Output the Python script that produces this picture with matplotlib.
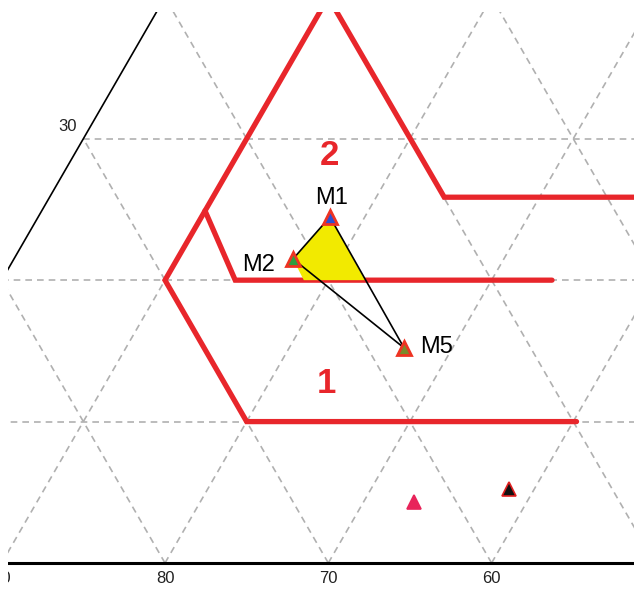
import numpy as np
import matplotlib
matplotlib.use("Agg")
import matplotlib.pyplot as plt
from matplotlib.patches import Polygon

plt.rcParams['font.family'] = ['Liberation Sans', 'DejaVu Sans']

SQ3 = np.sqrt(3.0)

# ternary frame, side 100, grid every 10
grid_steps = np.arange(10, 100, 10)
bottom_ticks = [90, 80, 70, 60]
left_ticks = [10, 20, 30, 40]

# field boundaries (cartesian ternary coords)
bound_a_x = [45.2, 25.0, 20.0, 30.0, 37.1, 52.0]
bound_a_y = [8.66, 8.66, 17.32, 34.64, 22.4, 22.4]
bound_b_x = [22.45, 24.3, 43.7]
bound_b_y = [21.57, 17.32, 17.32]

field_labels = ['1', '2']
field_label_x = [29.9, 30.1]
field_label_y = [11.0, 24.95]

# samples
samp_names = ['M1', 'M2', 'M5']
samp_x = [30.10, 27.84, 34.64]
samp_y = [21.19, 18.62, 13.17]
samp_fill = ['#2f4fd0', '#2e9e3e', '#7a8a2a']
name_x = [30.17, 25.76, 36.66]
name_y = [22.35, 18.25, 13.23]

other_x = [35.25, 41.07]
other_y = [3.74, 4.53]
other_fill = ['#e8245a', '#111111']
other_edge = ['#e8245a', '#e02020']

# overlap of the M1-M2-M5 triangle with field 2
yellow_x = [30.10, 27.84, 28.5, 32.25]
yellow_y = [21.19, 18.62, 17.32, 17.32]

fig = plt.figure(figsize=(6.34, 5.90), dpi=100)
ax = fig.add_axes([8 / 634, 0, 626 / 634, 578 / 590])
s = 16.33
ax.set_xlim(20 - 157 / s, 20 + 469 / s)
ax.set_ylim(-27 / s, 551 / s)
ax.set_axis_off()

gkw = dict(color='#b0b0b0', lw=1.2, ls=(0, (4, 3)), zorder=1)
for c in grid_steps:
    h = c * SQ3 / 2
    ax.plot([c / 2, 100 - c / 2], [h, h], **gkw)
    ax.plot([c, (100 + c) / 2], [0, (100 - c) * SQ3 / 2], **gkw)
    ax.plot([c, c / 2], [0, h], **gkw)

# triangle edges
ax.plot([0, 50], [0, 50 * SQ3], color='black', lw=1.2, zorder=2)
ax.plot([0, 100], [0, 0], color='black', lw=2.2, zorder=2)

for v in bottom_ticks:
    ax.text(100 - v, -0.95, str(v), ha='center', va='center',
            fontsize=12, color='#222222', clip_on=True)
for v in left_ticks:
    ax.annotate(str(v), (v / 2, v * SQ3 / 2), xytext=(-16, 12),
                textcoords='offset pixels', ha='center', va='center',
                fontsize=12, color='#222222', annotation_clip=True)

red = '#e8262b'
for bx, by in [(bound_a_x, bound_a_y), (bound_b_x, bound_b_y)]:
    ax.plot(bx, by, color=red, lw=3.8, solid_capstyle='round',
            solid_joinstyle='miter', zorder=3)

for t, lx, ly in zip(field_labels, field_label_x, field_label_y):
    ax.text(lx, ly, t, ha='center', va='center', fontsize=25,
            fontweight='bold', color=red, zorder=6)

ax.add_patch(Polygon(list(zip(yellow_x, yellow_y)), closed=True,
                     facecolor='#f2ea00', edgecolor='none', zorder=3.5))

# tie lines between samples
ax.plot([samp_x[0], samp_x[1]], [samp_y[0], samp_y[1]], color='black', lw=1.2, zorder=4)
ax.plot([samp_x[0], samp_x[2]], [samp_y[0], samp_y[2]], color='black', lw=1.2, zorder=4)
ax.plot([samp_x[1], samp_x[2]], [samp_y[1], samp_y[2]], color='black', lw=1.2, zorder=4)

for x, y, fc in zip(samp_x, samp_y, samp_fill):
    ax.plot(x, y, marker='^', ms=10, mfc=fc, mec='#ee3322', mew=2.0, zorder=5)
for t, x, y in zip(samp_names, name_x, name_y):
    ax.text(x, y, t, ha='center', va='center', fontsize=17, color='black', zorder=6)

for x, y, fc, ec in zip(other_x, other_y, other_fill, other_edge):
    ax.plot(x, y, marker='^', ms=10, mfc=fc, mec=ec, mew=1.2, zorder=5)

fig.savefig('out.png', dpi=100)
